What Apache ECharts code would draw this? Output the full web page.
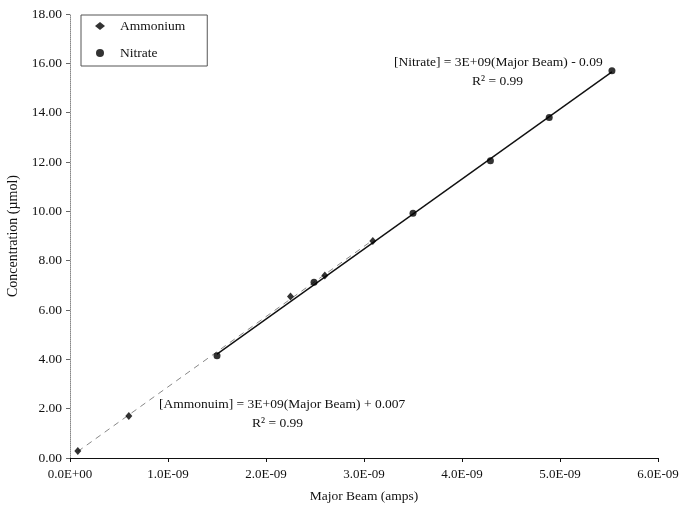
<!DOCTYPE html>
<html>
<head>
<meta charset="utf-8">
<script src="https://cdn.jsdelivr.net/npm/echarts@6/dist/echarts.min.js"></script>
<style>
	html, body { margin: 0; padding: 0; background: #fff; }
	#chart { width: 681px; height: 512px; }
</style>
</head>
<body>
<div id="chart"></div>
<script>
// data (x in amps, y in µmol)
var ammoniumBeam = [0.08e-9, 0.6e-9, 2.25e-9, 2.6e-9, 3.09e-9];
var ammoniumConc = [0.28, 1.7, 6.55, 7.4, 8.8];
var nitrateBeam = [1.5e-9, 2.49e-9, 3.5e-9, 4.29e-9, 4.89e-9, 5.53e-9];
var nitrateConc = [4.15, 7.12, 9.92, 12.05, 13.8, 15.7];

var xTicks = [0, 1e-9, 2e-9, 3e-9, 4e-9, 5e-9, 6e-9];
var yTicks = [0, 2, 4, 6, 8, 10, 12, 14, 16, 18];

var serif = "Liberation Serif";

function pairs(xs, ys) {
	return xs.map(function (x, i) { return [x, ys[i]]; });
}

// least squares trend line, drawn between first and last x
function trend(xs, ys) {
	var n = xs.length, sx = 0, sy = 0, sxx = 0, sxy = 0;
	for (var i = 0; i < n; i++) {
		sx += xs[i]; sy += ys[i]; sxx += xs[i] * xs[i]; sxy += xs[i] * ys[i];
	}
	var b = (n * sxy - sx * sy) / (n * sxx - sx * sx);
	var a = (sy - b * sx) / n;
	var x0 = Math.min.apply(null, xs), x1 = Math.max.apply(null, xs);
	return [[x0, a + b * x0], [x1, a + b * x1]];
}

function sci(v) {
	var s = v.toExponential(1).toUpperCase();
	var parts = s.split("E");
	var sign = parts[1].charAt(0);
	var exp = parts[1].slice(1);
	if (exp.length < 2) exp = "0" + exp;
	return parts[0] + "E" + sign + exp;
}

var myChart = echarts.init(document.getElementById("chart"));

var option = {
	animation: false,
	backgroundColor: "#fff",
	textStyle: { fontFamily: serif },
	grid: { left: 70, right: 23, top: 14, bottom: 54, outerBoundsMode: "none", containLabel: false },
	legend: {
		orient: "vertical",
		left: 81,
		top: 15,
		padding: [4, 22, 6, 14],
		itemGap: 13,
		itemWidth: 10,
		itemHeight: 8,
		borderColor: "#555",
		borderWidth: 1,
		textStyle: { fontFamily: serif, fontSize: 13.5, color: "#111", padding: [0, 0, 0, 10] },
		data: [
			{ name: "Ammonium", icon: "diamond" },
			{ name: "Nitrate", icon: "circle" },
		],
	},
	xAxis: {
		type: "value",
		min: xTicks[0],
		max: xTicks[xTicks.length - 1],
		interval: 1e-9,
		name: "Major Beam (amps)",
		nameLocation: "middle",
		nameGap: 31,
		nameTextStyle: { fontFamily: serif, fontSize: 13.5, color: "#111" },
		axisLine: { lineStyle: { color: "#111", width: 1 } },
		axisTick: { show: true, inside: false, length: 4, lineStyle: { color: "#111" } },
		axisLabel: {
			fontFamily: serif, fontSize: 13, color: "#111", margin: 10,
			formatter: function (v) { return sci(v); },
		},
		splitLine: { show: false },
	},
	yAxis: {
		type: "value",
		min: yTicks[0],
		max: yTicks[yTicks.length - 1],
		interval: 2,
		name: "Concentration (µmol)",
		nameLocation: "middle",
		nameGap: 48,
		nameTextStyle: { fontFamily: serif, fontSize: 14, color: "#111" },
		axisLine: { show: true, lineStyle: { color: "#888", width: 1, type: "dotted" } },
		axisTick: { show: true, inside: false, length: 4, lineStyle: { color: "#666" } },
		axisLabel: {
			fontFamily: serif, fontSize: 13.5, color: "#111", margin: 8,
			formatter: function (v) { return v.toFixed(2); },
		},
		splitLine: { show: false },
	},
	graphic: [
		{
			type: "text", left: 394, top: 55,
			style: { text: "[Nitrate] = 3E+09(Major Beam) - 0.09", font: "13.5px " + serif, fill: "#111" },
		},
		{
			type: "text", left: 472, top: 74,
			style: { text: "R² = 0.99", font: "13.5px " + serif, fill: "#111" },
		},
		{
			type: "text", left: 159, top: 397,
			style: { text: "[Ammonuim] = 3E+09(Major Beam) + 0.007", font: "13.5px " + serif, fill: "#111" },
		},
		{
			type: "text", left: 252, top: 416,
			style: { text: "R² = 0.99", font: "13.5px " + serif, fill: "#111" },
		},
	],
	series: [
		{
			name: "Ammonium trend",
			type: "line",
			data: trend(ammoniumBeam, ammoniumConc),
			symbol: "none",
			silent: true,
			lineStyle: { color: "#888", width: 1, type: [6, 5] },
			z: 1,
		},
		{
			name: "Nitrate trend",
			type: "line",
			data: trend(nitrateBeam, nitrateConc),
			symbol: "none",
			silent: true,
			lineStyle: { color: "#111", width: 1.4 },
			z: 2,
		},
		{
			name: "Ammonium",
			type: "scatter",
			data: pairs(ammoniumBeam, ammoniumConc),
			symbol: "diamond",
			symbolSize: [7, 8],
			itemStyle: { color: "#000" },
			z: 3,
		},
		{
			name: "Nitrate",
			type: "scatter",
			data: pairs(nitrateBeam, nitrateConc),
			symbol: "circle",
			symbolSize: 7,
			itemStyle: { color: "#000" },
			z: 3,
		},
	],
};

myChart.setOption(option);
</script>
</body>
</html>
